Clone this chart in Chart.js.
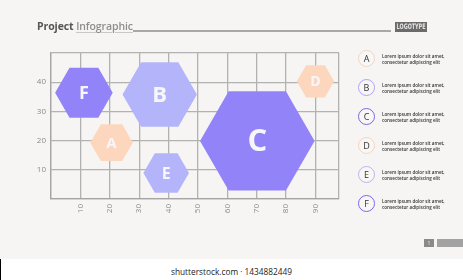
<!DOCTYPE html>
<html>
<head>
<meta charset="utf-8">
<script src="https://cdn.jsdelivr.net/npm/chart.js@4.4.1/dist/chart.umd.min.js"></script>
<style>
  html, body { margin: 0; padding: 0; }
  body { width: 463px; height: 280px; background: #f6f5f3; position: relative; overflow: hidden; font-family: "Open Sans", sans-serif; }
  #chart { position: absolute; left: 0; top: 0; }
  .title { position: absolute; left: 37px; top: 19px; font-size: 10.5px; font-weight: 700; color: #555; letter-spacing: -0.1px; }
  .title span { color: #8e8e8e; font-weight: 600; text-decoration: underline; text-decoration-color: #c8c8c8; text-underline-offset: 2px; }
  .rule { position: absolute; left: 133px; top: 29.5px; width: 258px; height: 2px; background: #a8a8a8; }
  .logo { position: absolute; left: 395px; top: 22px; width: 32px; height: 10px; background: #6b6b6b; color: #e4e4e4; font-size: 7.5px; line-height: 10px; text-align: center; font-family: "DejaVu Sans Condensed", "Liberation Sans", sans-serif; font-weight: 700; }
  .logo b { display: inline-block; transform: scaleX(0.72); font-weight: 700; white-space: nowrap; margin-left: -10px; margin-right: -10px; }
  .leg { position: absolute; left: 358px; width: 105px; height: 18px; }
  .leg .c { position: absolute; left: 0; top: 0; width: 15px; height: 15px; border-radius: 50%; border: 1.6px solid #999; background: #f8f7f5; color: #333; font-size: 9px; line-height: 15px; text-align: center; }
  .leg .t { position: absolute; left: 24px; top: 3px; font-size: 4.6px; line-height: 6px; color: #333; font-weight: 600; white-space: nowrap; }
  .pg { position: absolute; left: 424px; top: 239px; width: 10px; height: 8px; background: #8a8a8a; color: #eee; font-size: 5px; line-height: 8px; text-align: center; }
  .bar { position: absolute; left: 437px; top: 239px; width: 26px; height: 8px; background: #a2a2a2; }
  .wm { position: absolute; left: 0; top: 259px; width: 463px; height: 21px; background: #fff; color: #222; font-size: 8.3px; line-height: 25px; text-align: center; font-family: "Open Sans", sans-serif; }
  .wm i { position: absolute; left: 0; top: 0; width: 1px; height: 21px; background: #000; }
</style>
</head>
<body>
<canvas id="chart" width="463" height="280"></canvas>
<div class="title">Project <span>Infographic</span></div>
<div class="rule"></div>
<div class="logo"><b>LOGOTYPE</b></div>
<div id="legend"></div>
<div class="pg">1</div>
<div class="bar"></div>
<div class="wm"><i></i>shutterstock.com · 1434882449</div>
<script>
// hexagon data
var hexLabels = ['A', 'B', 'C', 'D', 'E', 'F'];
var xValues = [20.6, 37.0, 70.2, 90.0, 39.2, 11.2];
var yValues = [19.3, 35.8, 19.9, 40.3, 8.9, 36.4];
var sizeValues = [21.3, 37.2, 57.3, 18.7, 22.8, 28.8];
var xTickLabels = [10, 20, 30, 40, 50, 60, 70, 80, 90];
var yTickLabels = [10, 20, 30, 40];
var legendText = ['Lorem ipsum dolor sit amet,', 'consectetur adipiscing elit'];

var PURPLE = '#9383f9', LAVENDER = '#b4b4fb', PEACH = '#fdd6be';
var hexColors = [PEACH, LAVENDER, PURPLE, PEACH, LAVENDER, PURPLE];
var ringColors = ['#f3d3bf', '#aaa4f4', '#7a66e6', '#f3d3bf', '#b8b3f6', '#7a66e6'];

var points = hexLabels.map(function (l, i) {
    return { x: xValues[i], y: yValues[i], r: sizeValues[i] };
});

// draws a flat-topped hexagon for each bubble element
var hexPlugin = {
    id: 'hexagons',
    afterDatasetsDraw: function (chart) {
        var ctx = chart.ctx;
        var meta = chart.getDatasetMeta(0);
        meta.data.forEach(function (el, i) {
            var p = el.getProps(['x', 'y']);
            var R = el.options.radius;
            ctx.save();
            ctx.beginPath();
            for (var k = 0; k < 6; k++) {
                var a = Math.PI / 3 * k;
                var px = p.x + R * Math.cos(a), py = p.y + R * Math.sin(a);
                if (k === 0) ctx.moveTo(px, py); else ctx.lineTo(px, py);
            }
            ctx.closePath();
            ctx.fillStyle = hexColors[i];
            ctx.fill();
            ctx.fillStyle = '#f7f6fb';
            ctx.font = '700 ' + Math.round(6 + R * 0.43) + 'px "Open Sans", sans-serif';
            ctx.textAlign = 'center';
            ctx.textBaseline = 'middle';
            ctx.fillText(hexLabels[i], p.x, p.y + 1);
            ctx.restore();
        });
    }
};

new Chart(document.getElementById('chart'), {
    type: 'bubble',
    data: {
        datasets: [{
            data: points,
            backgroundColor: 'rgba(0,0,0,0)',
            borderWidth: 0,
            hoverRadius: 0
        }]
    },
    options: {
        responsive: false,
        animation: false,
        events: [],
        layout: { autoPadding: false, padding: { left: 0, top: 53, right: 124, bottom: 51 } },
        plugins: { legend: { display: false }, tooltip: { enabled: false } },
        scales: {
            x: {
                type: 'linear',
                min: 0,
                max: 98,
                afterFit: function (s) { s.height = 30; },
                grid: { color: '#b2b2b2', lineWidth: 1.3, drawTicks: false },
                border: { color: '#a5a5a5', width: 1.3 },
                ticks: {
                    stepSize: 10,
                    padding: 5,
                    minRotation: 90,
                    maxRotation: 90,
                    color: '#8a8a8a',
                    font: { family: '"Open Sans", sans-serif', size: 8 },
                    callback: function (v) { return xTickLabels.indexOf(v) >= 0 ? String(v) : ''; }
                }
            },
            y: {
                type: 'linear',
                min: 0,
                max: 50,
                afterFit: function (s) { s.width = 51; },
                grid: { color: '#b2b2b2', lineWidth: 1.3, drawTicks: false },
                border: { color: '#a5a5a5', width: 1.3 },
                ticks: {
                    stepSize: 10,
                    padding: 5,
                    color: '#8a8a8a',
                    font: { family: '"Open Sans", sans-serif', size: 8 },
                    callback: function (v) { return yTickLabels.indexOf(v) >= 0 ? String(v) : ''; }
                }
            }
        }
    },
    plugins: [hexPlugin]
});

// side legend
var legend = document.getElementById('legend');
hexLabels.forEach(function (l, i) {
    var row = document.createElement('div');
    row.className = 'leg';
    row.style.top = (50 + i * 29) + 'px';
    row.innerHTML = '<div class="c" style="border-color:' + ringColors[i] + '">' + l + '</div>' +
        '<div class="t">' + legendText[0] + '<br>' + legendText[1] + '</div>';
    legend.appendChild(row);
});
</script>
</body>
</html>
